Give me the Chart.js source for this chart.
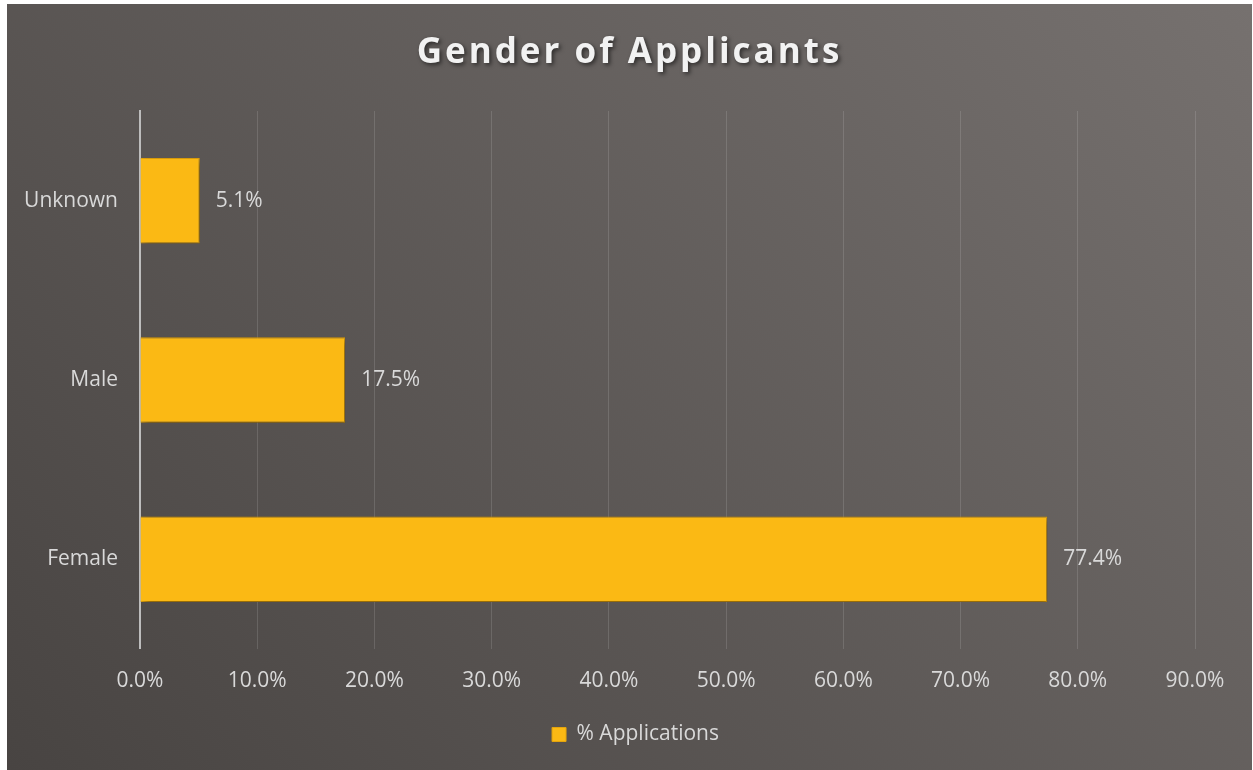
<!DOCTYPE html>
<html>
<head>
<meta charset="utf-8">
<script src="https://cdn.jsdelivr.net/npm/chart.js@4.4.1/dist/chart.umd.min.js"></script>
<style>
  html, body { margin: 0; padding: 0; background: #ffffff; }
  #wrap { position: absolute; left: 7px; top: 4px; width: 1245px; height: 766px; }
</style>
</head>
<body>
<div id="wrap"><canvas id="genderChart"></canvas></div>
<script>
const categories = ["Unknown", "Male", "Female"];
const applications = [5.1, 17.5, 77.4];
const seriesName = "% Applications";

const COLORS = {
  bar: "#fbb914",
  barEdge: "#e4a40c",
  text: "#d9d9d9",
  title: "#f2f2f2",
  grid: "rgba(255,255,255,0.13)",
  axis: "#bdbdbd",
  bgDark: "#484442",
  bgLight: "#76716f"
};

const FONT = "'Open Sans', 'DejaVu Sans', sans-serif";

// shift a layout box (title / legend) while it draws
function wrapDraw(chart, box, opts) {
  if (!box || box._wrapped) return;
  const orig = box.draw.bind(box);
  box.draw = function () {
    const c = chart.ctx;
    c.save();
    const dx = opts.center - (box.left + box.right) / 2;
    c.translate(dx, opts.dy || 0);
    if (opts.before) opts.before(c);
    orig();
    c.restore();
  };
  box._wrapped = true;
}

const backgroundPlugin = {
  id: "bg",
  beforeDraw(chart) {
    const { ctx, width, height } = chart;
    const cx = width / 2, cy = height / 2, s = (cx + cy) / 2;
    const g = ctx.createLinearGradient(cx - s, cy + s, cx + s, cy - s);
    g.addColorStop(0, COLORS.bgDark);
    g.addColorStop(1, COLORS.bgLight);
    ctx.save();
    ctx.fillStyle = g;
    ctx.fillRect(0, 0, width, height);
    ctx.restore();

    wrapDraw(chart, chart.titleBlock, {
      center: width / 2,
      before(c) {
        c.letterSpacing = "3px";
        c.shadowColor = "rgba(0,0,0,0.55)";
        c.shadowBlur = 4;
        c.shadowOffsetX = 2;
        c.shadowOffsetY = 2;
      }
    });
    wrapDraw(chart, chart.legend, { center: width / 2 + 6, dy: -4 });
  }
};

// bar shadow + value labels
const barLabelPlugin = {
  id: "barLabels",
  beforeDatasetsDraw(chart) {
    const ctx = chart.ctx;
    ctx.save();
    ctx.shadowColor = "rgba(0,0,0,0.45)";
    ctx.shadowBlur = 7;
    ctx.shadowOffsetX = 3;
    ctx.shadowOffsetY = 3;
  },
  afterDatasetsDraw(chart) {
    const ctx = chart.ctx;
    ctx.restore();
    ctx.save();
    ctx.font = "21px " + FONT;
    ctx.fillStyle = COLORS.text;
    ctx.textAlign = "left";
    ctx.textBaseline = "middle";
    const meta = chart.getDatasetMeta(0);
    meta.data.forEach((bar, i) => {
      ctx.fillText(applications[i].toFixed(1) + "%", bar.x + 16, bar.y);
    });
    ctx.restore();
  }
};

new Chart(document.getElementById("genderChart"), {
  type: "bar",
  data: {
    labels: categories,
    datasets: [{
      label: seriesName,
      data: applications,
      backgroundColor: COLORS.bar,
      borderColor: COLORS.barEdge,
      borderWidth: 1,
      barPercentage: 1,
      categoryPercentage: 0.477
    }]
  },
  options: {
    indexAxis: "y",
    responsive: true,
    maintainAspectRatio: false,
    animation: false,
    layout: { padding: { left: 0, right: 57, top: 0, bottom: 11 } },
    plugins: {
      title: {
        display: true,
        text: "Gender of Applicants",
        color: COLORS.title,
        font: { family: FONT, size: 35, weight: "bold" },
        padding: { top: 28, bottom: 37 }
      },
      legend: {
        position: "bottom",
        labels: {
          color: COLORS.text,
          font: { family: FONT, size: 21 },
          boxWidth: 14,
          boxHeight: 14,
          padding: 14
        }
      },
      tooltip: { enabled: false }
    },
    scales: {
      x: {
        min: 0,
        max: 90,
        ticks: {
          stepSize: 10,
          color: COLORS.text,
          font: { family: FONT, size: 21 },
          padding: 20,
          callback: v => v.toFixed(1) + "%"
        },
        grid: { color: COLORS.grid, lineWidth: 1, drawTicks: false },
        border: { display: false }
      },
      y: {
        ticks: {
          color: COLORS.text,
          font: { family: FONT, size: 21 },
          padding: 22
        },
        grid: { display: false, drawTicks: false },
        border: { display: true, color: COLORS.axis, width: 2 },
        afterFit(scale) { scale.width = 133; }
      }
    }
  },
  plugins: [backgroundPlugin, barLabelPlugin]
});
</script>
</body>
</html>
